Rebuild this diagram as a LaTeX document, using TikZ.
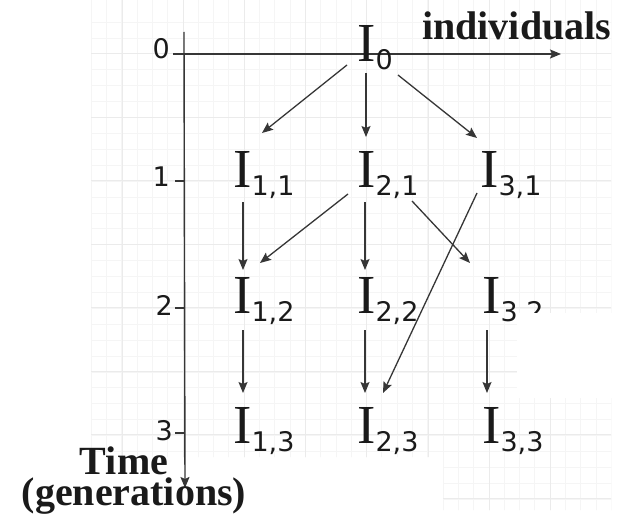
\documentclass[tikz,border=0pt]{standalone}
\usepackage{fontspec}
\setmainfont{Liberation Serif}
\newfontfamily\subfnt{DejaVu Sans}
\usetikzlibrary{arrows.meta}
\definecolor{lnc}{HTML}{363636}
\definecolor{txc}{HTML}{1A1A1A}
\definecolor{gmaj}{HTML}{EBEBEB}
\definecolor{gmin}{HTML}{F5F5F5}
\newcommand{\indiv}[1]{{\fontsize{55}{55}\selectfont I}\raisebox{-8pt}{\subfnt\fontsize{27}{27}\selectfont #1}}
\tikzset{
  inode/.style={anchor=base west, inner sep=0pt, text=txc},
  tick/.style={anchor=base east, inner sep=0pt, text=txc, font=\subfnt\fontsize{27}{27}\selectfont},
  axlabel/.style={inner sep=0pt, text=txc, font=\bfseries\fontsize{40}{40}\selectfont},
  axis/.style={draw=lnc, line width=1.4pt},
  arr/.style={draw=lnc, line width=1.3pt, -{Stealth[length=11pt,width=9pt,inset=2pt]}},
}
\begin{document}
\begin{tikzpicture}[x=1pt,y=-1pt]
\useasboundingbox (0,0) rectangle (630,527);
\fill[white] (0,0) rectangle (630,527);
% faint background grid
\begin{scope}
  \clip (91,0) rectangle (611,457) (443,457) rectangle (611,510);
  \foreach \i in {0,...,34} {\draw[gmin, line width=0.6pt] ({91+15.3*\i},0) -- ({91+15.3*\i},527);}
  \foreach \i in {0,...,34} {\draw[gmin, line width=0.6pt] (0,{22+15.9*\i}) -- (630,{22+15.9*\i});}
  \foreach \i in {0,...,8} {\draw[gmaj, line width=0.8pt] ({122+61.2*\i},0) -- ({122+61.2*\i},527);}
  \foreach \i in {0,...,8} {\draw[gmaj, line width=0.8pt] (0,{53.5+63.5*\i}) -- (630,{53.5+63.5*\i});}
\end{scope}
% axes
\coordinate (vtop) at (184,32);
\coordinate (vend) at (185,488);
\coordinate (hstart) at (173,54);
\coordinate (hend) at (561,54);
\draw[axis, -{Stealth[length=11pt,width=9pt,inset=2pt]}] (vtop) -- (vend);
\draw[axis, -{Stealth[length=11pt,width=9pt,inset=2pt]}] (hstart) -- (hend);
% ticks and labels
\foreach \y in {181, 308, 433} {
  \draw[axis, line width=1.1pt] (175,\y) -- (184,\y);
}
\node[tick] (t0) at (170,59) {0};
\node[tick] (t1) at (170,186) {1};
\node[tick] (t2) at (173,315) {2};
\node[tick] (t3) at (173,440) {3};
\node[axlabel, anchor=base west] (indl) at (422,40) {individuals};
\node[axlabel, anchor=base] (time) at (124,474) {Time};
\node[axlabel, anchor=base] (gens) at (134,505) {(generations)};
% individuals
\node[inode] (I0) at (357,62) {\indiv{0}};
\node[inode] (I11) at (233,187) {\indiv{1,1}};
\node[inode] (I21) at (357,187) {\indiv{2,1}};
\node[inode] (I31) at (480,187) {\indiv{3,1}};
\node[inode] (I12) at (233,313) {\indiv{1,2}};
\node[inode] (I22) at (357,313) {\indiv{2,2}};
\node[inode] (I32) at (482,313) {\indiv{3,2}};
\node[inode] (I13) at (233,443) {\indiv{1,3}};
\node[inode] (I23) at (357,443) {\indiv{2,3}};
\node[inode] (I33) at (482,443) {\indiv{3,3}};
% descent arrows
\draw[arr] ([shift={(-10,3)}]I0.base west) -- ([shift={(29,-54)}]I11.base west);
\draw[arr] ([shift={(9,11)}]I0.base west) -- ([shift={(9,-50)}]I21.base west);
\draw[arr] ([shift={(41,13)}]I0.base west) -- ([shift={(-3,-49)}]I31.base west);
\draw[arr] ([shift={(10,15)}]I11.base west) -- ([shift={(10,-43)}]I12.base west);
\draw[arr] ([shift={(-9,7)}]I21.base west) -- ([shift={(27,-50)}]I12.base west);
\draw[arr] ([shift={(8,15)}]I21.base west) -- ([shift={(8,-43)}]I22.base west);
\draw[arr] ([shift={(55,14)}]I21.base west) -- ([shift={(-12,-50)}]I32.base west);
\draw[arr] ([shift={(-3,6)}]I31.base west) -- ([shift={(26,-50)}]I23.base west);
\draw[arr] ([shift={(10,17)}]I12.base west) -- ([shift={(10,-50)}]I13.base west);
\draw[arr] ([shift={(8,17)}]I22.base west) -- ([shift={(8,-50)}]I23.base west);
\draw[arr] ([shift={(5,17)}]I32.base west) -- ([shift={(5,-50)}]I33.base west);
% white patch covering part of the picture, as in the reference
\fill[white] (517,313) rectangle (630,398);
\end{tikzpicture}
\end{document}
